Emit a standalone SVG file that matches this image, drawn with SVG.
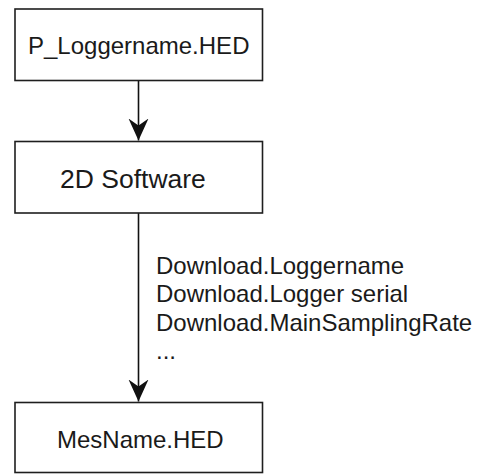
<svg xmlns="http://www.w3.org/2000/svg" width="482" height="474" viewBox="0 0 482 474">
  <style>
    .box { fill: #ffffff; stroke: #1e1e1e; stroke-width: 1.6; }
    .lbl { font-family: "Liberation Sans", Arial, sans-serif; font-size: 24px; fill: #1a1a1a; }
    .edge { stroke: #111111; stroke-width: 1.6; fill: none; }
  </style>
  <defs>
    <marker id="arrow" markerUnits="userSpaceOnUse" markerWidth="24" markerHeight="22" refX="22" refY="10" orient="auto">
      <path d="M0,0 L22,10 L0,20 L7,10 Z" fill="#111111"/>
    </marker>
  </defs>
  <rect width="482" height="474" fill="#ffffff"/>
  <g id="connectors">
    <line class="edge" x1="138.5" y1="80.5" x2="138.5" y2="140.5" marker-end="url(#arrow)"/>
    <line class="edge" x1="138.5" y1="213" x2="138.5" y2="401.5" marker-end="url(#arrow)"/>
    <g id="edge-label">
      <text class="lbl" x="156" y="273.5">Download.Loggername</text>
      <text class="lbl" x="156" y="302">Download.Logger serial</text>
      <text class="lbl" x="156" y="330.5">Download.MainSamplingRate</text>
      <text class="lbl" x="156" y="359">...</text>
    </g>
  </g>
  <g id="node-phed">
    <rect class="box" x="15" y="9" width="247.5" height="71.5"/>
    <text class="lbl" x="28" y="53.5">P_Loggername.HED</text>
  </g>
  <g id="node-2d">
    <rect class="box" x="15" y="141.5" width="247.5" height="71.5"/>
    <text class="lbl" x="60" y="187.5" style="font-size:26.5px">2D Software</text>
  </g>
  <g id="node-mes">
    <rect class="box" x="15" y="402.5" width="247.5" height="70"/>
    <text class="lbl" x="57" y="448">MesName.HED</text>
  </g>
</svg>
